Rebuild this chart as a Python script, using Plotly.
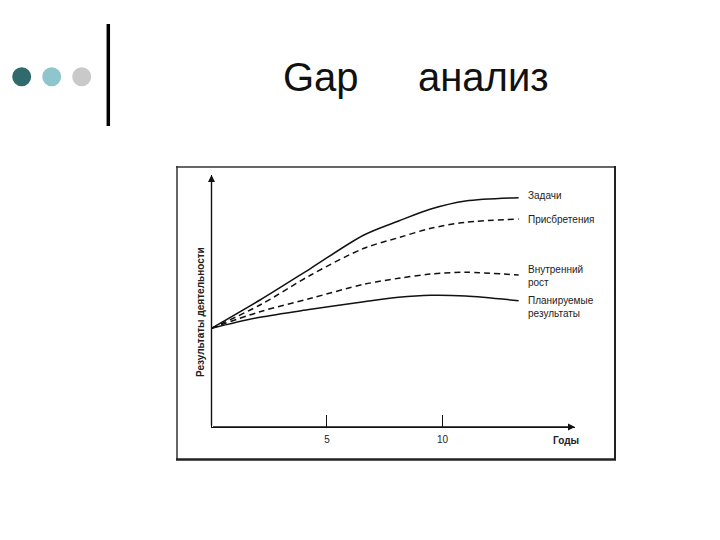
import plotly.graph_objects as go

W, H = 720, 540
OFF = 8  # page body margin of the html page

def px(x):
    return (x - OFF) / W

def py(y):
    return 1 - (y - OFF) / H

# ---- data (arbitrary units) ----
years = [0, 2.1, 4.3, 6.6, 8.1, 9.5, 11.0, 13.3]
zadachi = [98.7, 127, 158.7, 192, 206, 218, 226, 229.3]
prisbreteniya = [98.7, 122, 152, 178.7, 189.3, 198.7, 204.7, 208]
vnutr_rost = [98.7, 115.3, 128.7, 142.7, 148.7, 153, 154.7, 152]
planiruemye = [98.7, 109.7, 117.7, 125.3, 129.7, 131.7, 131, 126.3]

series_names = ["Задачи", "Присбретения", "Внутренний<br>рост", "Планируемые<br>результаты"]
series_vals = [zadachi, prisbreteniya, vnutr_rost, planiruemye]
series_dash = ["solid", "6px,4px", "6px,4px", "solid"]
label_y_px = [195, 219, 276, 307]

tick_vals = [5, 10]
tick_text = ["5", "10"]
x_title = "Годы"
y_title = "Результаты деятельности"
x_max = 15.74
y_max = 252

# axis pixel geometry
X0, X1 = 211.5, 575
Y0, Y1 = 427, 175

fig = go.Figure()
for name, vals, dash in zip(series_names, series_vals, series_dash):
    fig.add_trace(go.Scatter(
        x=years, y=vals, mode="lines", name=name,
        line=dict(color="#111111", width=1.5, dash=dash, shape="spline", smoothing=0.9),
        showlegend=False, hoverinfo="skip"))

font_main = "Liberation Sans, Arial, sans-serif"

annotations = []
# series labels
for name, ypix in zip(series_names, label_y_px):
    annotations.append(dict(
        x=px(527), y=py(ypix), xref="paper", yref="paper", text=name,
        showarrow=False, xanchor="left", yanchor="middle", align="left", borderpad=0,
        font=dict(family=font_main, size=10, color="#222222")))

# axis arrows
annotations.append(dict(x=x_max, y=0, ax=0, ay=0, xref="x", yref="y", axref="x", ayref="y",
                        text="", showarrow=True, arrowhead=2, arrowsize=1, arrowwidth=1.4,
                        arrowcolor="#111111"))
annotations.append(dict(x=0, y=y_max, ax=0, ay=0, xref="x", yref="y", axref="x", ayref="y",
                        text="", showarrow=True, arrowhead=2, arrowsize=1, arrowwidth=1.4,
                        arrowcolor="#111111"))

# axis titles
annotations.append(dict(x=px(200), y=py(312), xref="paper", yref="paper", text="<b>" + y_title + "</b>",
                        showarrow=False, textangle=-90, xanchor="center", yanchor="middle",
                        font=dict(family=font_main, size=10, color="#222222")))
annotations.append(dict(x=px(566), y=py(440), xref="paper", yref="paper", text="<b>" + x_title + "</b>",
                        showarrow=False, xanchor="center", yanchor="middle",
                        font=dict(family=font_main, size=10, color="#222222")))

# slide title
annotations.append(dict(x=px(281), y=py(76.5), xref="paper", yref="paper", text="Gap",
                        showarrow=False, xanchor="left", yanchor="middle",
                        font=dict(family=font_main, size=40, color="#111111")))
annotations.append(dict(x=px(416), y=py(76.5), xref="paper", yref="paper", text="анализ",
                        showarrow=False, xanchor="left", yanchor="middle",
                        font=dict(family=font_main, size=40, color="#111111")))

shapes = []
# decorative dots
for cx, col in [(21.7, "#2f6a6d"), (51.7, "#8fc5cc"), (81.7, "#c9c9c9")]:
    r = 9.5
    shapes.append(dict(type="circle", xref="paper", yref="paper",
                       x0=px(cx - r), x1=px(cx + r), y0=py(76.7 + r), y1=py(76.7 - r),
                       fillcolor=col, line=dict(width=0)))
# vertical bar
shapes.append(dict(type="line", xref="paper", yref="paper",
                   x0=px(108.3), x1=px(108.3), y0=py(24), y1=py(126),
                   line=dict(color="#000000", width=3.5)))
# chart frame (scanned border)
shapes.append(dict(type="line", xref="paper", yref="paper", x0=px(176), x1=px(616), y0=py(167), y1=py(167),
                   line=dict(color="#333333", width=1.5)))
shapes.append(dict(type="line", xref="paper", yref="paper", x0=px(177), x1=px(177), y0=py(166), y1=py(460),
                   line=dict(color="#333333", width=1.5)))
shapes.append(dict(type="line", xref="paper", yref="paper", x0=px(176), x1=px(616), y0=py(459.5), y1=py(459.5),
                   line=dict(color="#222222", width=2.5)))
shapes.append(dict(type="line", xref="paper", yref="paper", x0=px(615), x1=px(615), y0=py(166), y1=py(460),
                   line=dict(color="#222222", width=2)))

fig.update_layout(
    width=W, height=H, autosize=False,
    margin=dict(l=0, r=0, t=0, b=0),
    paper_bgcolor="white", plot_bgcolor="white",
    xaxis=dict(domain=[px(X0), px(X1)], range=[0, x_max], showgrid=False, zeroline=False,
               showline=True, linecolor="#111111", linewidth=1.4,
               tickmode="array", tickvals=tick_vals, ticktext=tick_text,
               ticks="inside", ticklen=12, tickwidth=1.4, tickcolor="#111111",
               ticklabelstandoff=3,
               tickfont=dict(family=font_main, size=10, color="#222222"), fixedrange=True),
    yaxis=dict(domain=[py(Y0), py(Y1)], range=[0, y_max], showgrid=False, zeroline=False,
               showline=True, linecolor="#111111", linewidth=1.4, showticklabels=False,
               ticks="", fixedrange=True),
    annotations=annotations, shapes=shapes,
)

fig.write_html("out.html")
